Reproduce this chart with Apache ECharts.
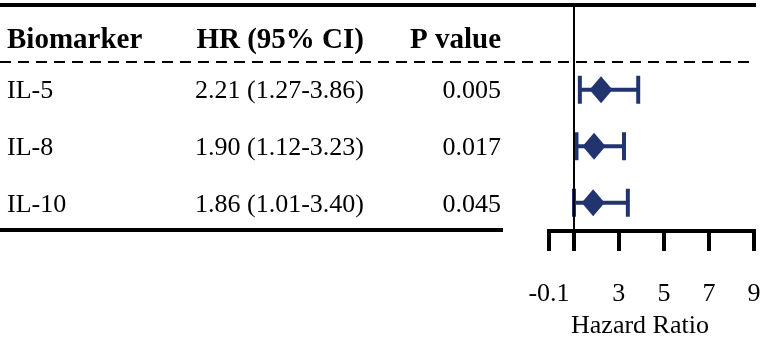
<!DOCTYPE html>
<html>
<head>
<meta charset="utf-8">
<script src="https://cdn.jsdelivr.net/npm/echarts@6/dist/echarts.min.js"></script>
<style>html,body{margin:0;padding:0;background:#fff}#c{width:765px;height:344px}</style>
</head>
<body>
<div id="c"></div>
<script>
const biomarkers = ['IL-5', 'IL-8', 'IL-10'];
const hrValues = [2.21, 1.90, 1.86];
const ciLow = [1.27, 1.12, 1.01];
const ciHigh = [3.86, 3.23, 3.40];
const pValues = ['0.005', '0.017', '0.045'];
const headers = ['Biomarker', 'HR (95% CI)', 'P value'];
const tickValues = [-0.1, 1, 3, 5, 7, 9];
const tickLabels = ['-0.1', '', '3', '5', '7', '9'];
const axisTitle = 'Hazard Ratio';

const FONT = '"Liberation Serif", "Times New Roman", serif';
const NAVY = '#223470';
const rowY = biomarkers.map((_, i) => i + 1);

// column anchors in table-grid units (pixels across the page)
const COL1 = 7, COL2 = 364, COL3 = 501;

function textSeries(points, align, bold, size, offY) {
  return {
    type: 'scatter', xAxisIndex: 0, yAxisIndex: 0, symbolSize: 0, silent: true,
    itemStyle: { opacity: 1 },
    data: points,
    label: {
      show: true, position: 'inside', align: align, verticalAlign: 'middle',
      offset: [0, offY || 0],
      formatter: p => p.data.t,
      fontFamily: FONT, fontSize: size, fontWeight: bold ? 'bold' : 'normal',
      color: '#000', opacity: 1
    }
  };
}

const col1 = biomarkers.map((b, i) => ({ value: [COL1, rowY[i]], t: b }));
const col2 = biomarkers.map((b, i) => ({ value: [COL2, rowY[i]], t: hrValues[i].toFixed(2) + ' (' + ciLow[i].toFixed(2) + '-' + ciHigh[i].toFixed(2) + ')' }));
const col3 = biomarkers.map((b, i) => ({ value: [COL3, rowY[i]], t: pValues[i] }));

const option = {
  animation: false,
  backgroundColor: '#fff',
  grid: [
    { left: 0, right: 0, top: 5, bottom: 111 },
    { left: 549, right: 11, top: 5, bottom: 111 }
  ],
  xAxis: [
    { gridIndex: 0, type: 'value', min: 0, max: 765, show: false },
    {
      gridIndex: 1, type: 'value', min: -0.1, max: 9, position: 'bottom',
      axisLine: { show: true, onZero: false, lineStyle: { color: '#000', width: 4, cap: 'square' } },
      axisTick: { show: true, customValues: tickValues, length: 20, lineStyle: { color: '#000', width: 4 } },
      axisLabel: {
        show: true, customValues: tickValues,
        formatter: v => tickLabels[tickValues.indexOf(Math.round(v * 10) / 10)] || '',
        fontFamily: FONT, fontSize: 26, color: '#000', margin: 50
      },
      splitLine: { show: false },
      name: axisTitle, nameLocation: 'middle', nameGap: 82,
      nameTextStyle: { fontFamily: FONT, fontSize: 26, color: '#000', padding: [0, 23, 0, 0] }
    }
  ],
  yAxis: [
    { gridIndex: 0, type: 'value', min: -0.5, max: 3.5, inverse: true, show: false },
    { gridIndex: 1, type: 'value', min: -0.5, max: 3.5, inverse: true, show: false }
  ],
  series: [
    // table rules
    {
      type: 'line', xAxisIndex: 0, yAxisIndex: 0, data: [], silent: true,
      markLine: {
        symbol: 'none', silent: true, label: { show: false },
        data: [
          [{ coord: [0, -0.5], lineStyle: { width: 4, color: '#000', type: 'solid' } }, { coord: [756, -0.5] }],
          [{ coord: [0, 0.5], lineStyle: { width: 2, color: '#000', type: [11, 7] } }, { coord: [756, 0.5] }],
          [{ coord: [0, 3.45], lineStyle: { width: 4, color: '#000', type: 'solid' } }, { coord: [503, 3.45] }]
        ]
      }
    },
    textSeries([{ value: [COL1, 0], t: headers[0] }], 'left', true, 29, 7),
    textSeries([{ value: [COL2, 0], t: headers[1] }], 'right', true, 29, 7),
    textSeries([{ value: [COL3, 0], t: headers[2] }], 'right', true, 29, 7),
    textSeries(col1, 'left', false, 26, 1),
    textSeries(col2, 'right', false, 26, 1),
    textSeries(col3, 'right', false, 26, 1),
    // reference line at HR = 1
    {
      type: 'line', xAxisIndex: 1, yAxisIndex: 1, data: [], silent: true,
      markLine: {
        symbol: 'none', silent: true, label: { show: false },
        lineStyle: { color: '#000', width: 2, type: 'solid' },
        data: [[{ coord: [1, -0.5] }, { coord: [1, 3.5] }]]
      }
    },
    // CI whiskers
    {
      type: 'custom', xAxisIndex: 1, yAxisIndex: 1, silent: true,
      data: biomarkers.map((b, i) => [ciLow[i], ciHigh[i], rowY[i]]),
      encode: { x: [0, 1], y: 2 },
      renderItem: function (params, api) {
        const y = api.value(2);
        const a = api.coord([api.value(0), y]);
        const b = api.coord([api.value(1), y]);
        const h = 14;
        const st = { stroke: NAVY, lineWidth: 4 };
        return {
          type: 'group',
          children: [
            { type: 'line', shape: { x1: a[0], y1: a[1], x2: b[0], y2: b[1] }, style: st },
            { type: 'line', shape: { x1: a[0], y1: a[1] - h, x2: a[0], y2: a[1] + h }, style: st },
            { type: 'line', shape: { x1: b[0], y1: b[1] - h, x2: b[0], y2: b[1] + h }, style: st }
          ]
        };
      }
    },
    // point estimates
    {
      type: 'scatter', xAxisIndex: 1, yAxisIndex: 1, silent: true,
      symbol: 'diamond', symbolSize: [23, 27],
      itemStyle: { color: NAVY, opacity: 1 },
      data: biomarkers.map((b, i) => [hrValues[i], rowY[i]]),
      z: 5
    }
  ]
};

const chart = echarts.init(document.getElementById('c'), null, { renderer: 'canvas' });
chart.setOption(option);
</script>
</body>
</html>
